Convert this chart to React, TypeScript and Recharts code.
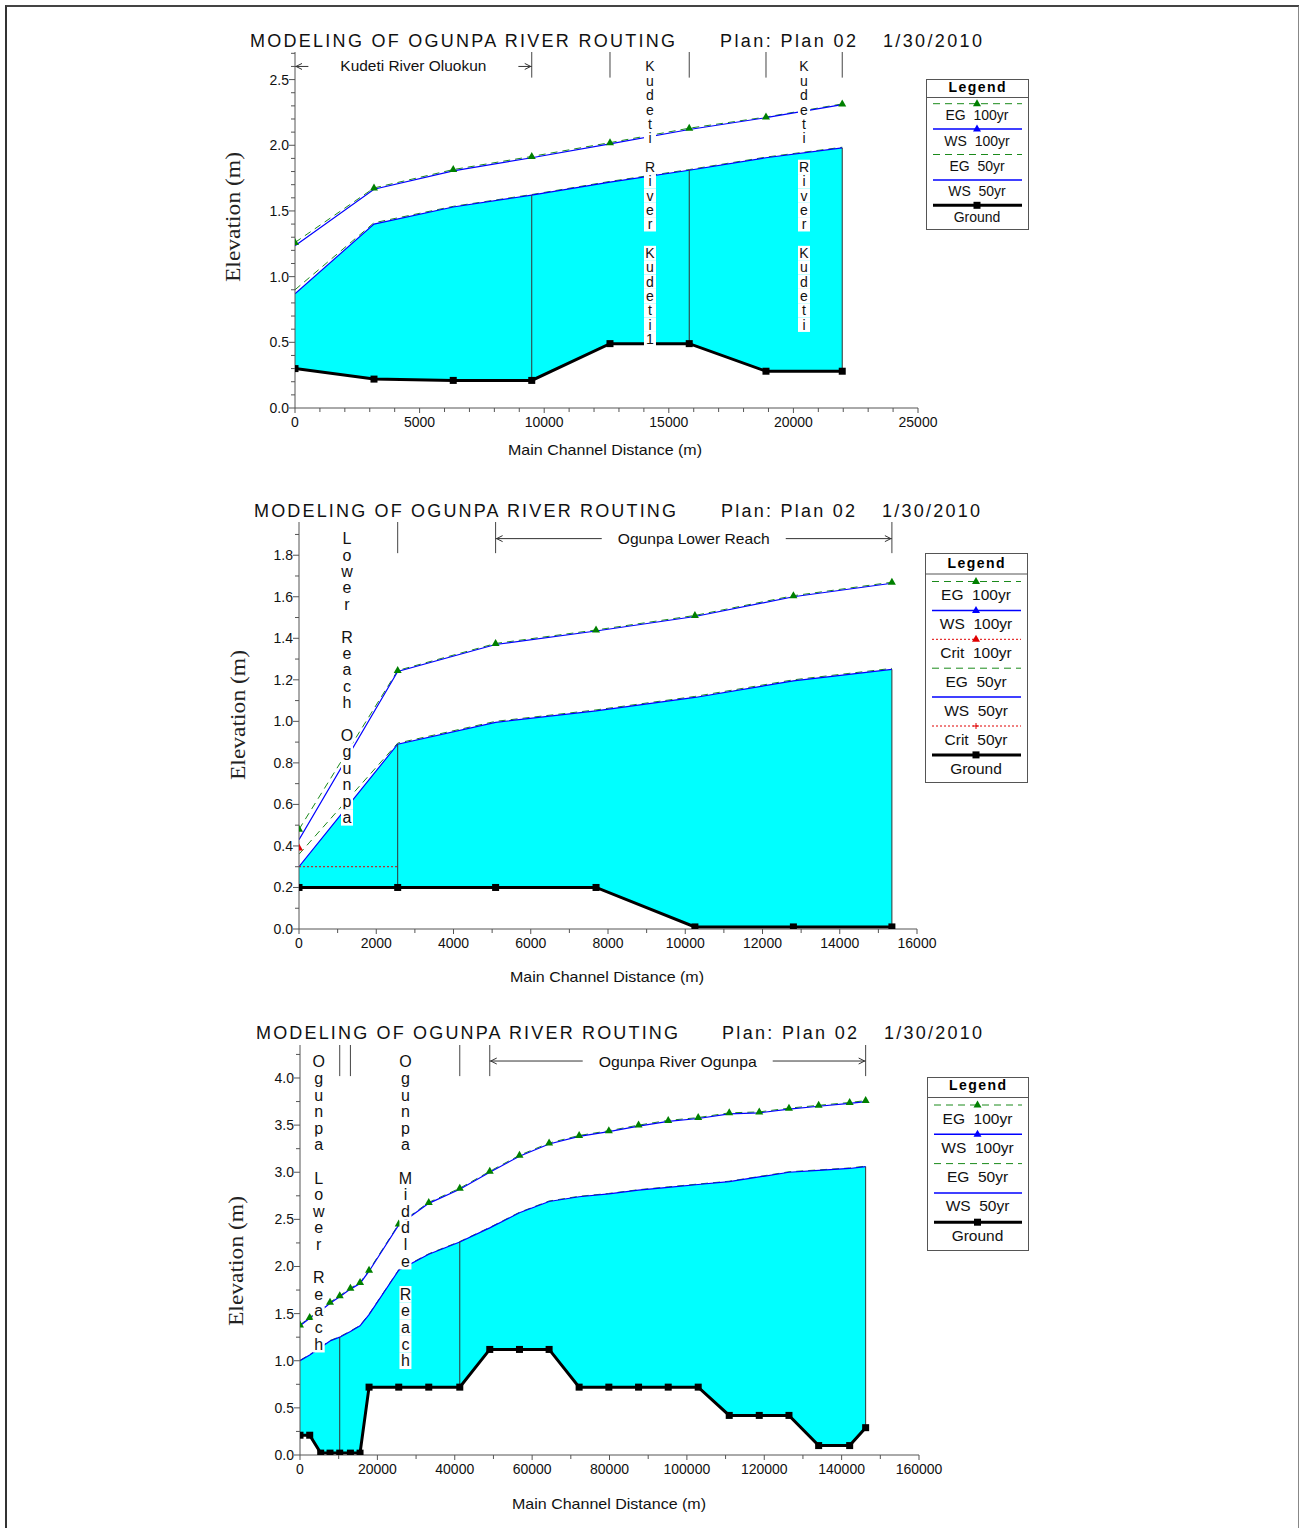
import React from "react";
import {
  Area,
  ComposedChart,
  Line,
  ReferenceDot,
  ReferenceLine,
  XAxis,
  YAxis,
} from "recharts";

// ---- Kudeti River (top profile) ----
const kudetiDist = [0, 3170, 6350, 9500, 12640, 15820, 18900, 21960];
const kudetiGround = [0.3, 0.22, 0.21, 0.21, 0.49, 0.49, 0.28, 0.28];
const kudetiWs50 = [0.87, 1.4, 1.53, 1.62, 1.72, 1.81, 1.905, 1.98];
const kudetiEg50 = [0.9, 1.41, 1.535, 1.625, 1.725, 1.815, 1.91, 1.985];
const kudetiWs100 = [1.235, 1.665, 1.805, 1.905, 2.01, 2.12, 2.21, 2.31];
const kudetiEg100 = [1.26, 1.675, 1.815, 1.915, 2.02, 2.13, 2.215, 2.315];
const kudetiJunctions = [9500, 15820, 21960];
const kudetiMarks = [9500, 12640, 15820, 18900, 21960];
const kudetiXTicks = [0, 5000, 10000, 15000, 20000, 25000];
const kudetiYTicks = [0, 0.5, 1.0, 1.5, 2.0, 2.5];

// ---- Ogunpa lower reach (middle profile) ----
const lowerDist = [0, 2555, 5090, 7690, 10250, 12800, 15350];
const lowerGround = [0.2, 0.2, 0.2, 0.2, 0.01, 0.01, 0.01];
const lowerWs50 = [0.3, 0.89, 0.995, 1.05, 1.115, 1.195, 1.25];
const lowerEg50 = [0.36, 0.895, 1.0, 1.055, 1.12, 1.2, 1.255];
const lowerCrit50 = [0.3, 0.3, null, null, null, null, null];
const lowerWs100 = [0.43, 1.24, 1.37, 1.435, 1.505, 1.6, 1.665];
const lowerEg100 = [0.48, 1.245, 1.375, 1.44, 1.51, 1.605, 1.67];
const lowerCrit100 = [0.39, null, null, null, null, null, null];
const lowerJunctions = [2555, 15350];
const lowerMarks = [2555, 5090, 15350];
const lowerXTicks = [0, 2000, 4000, 6000, 8000, 10000, 12000, 14000, 16000];
const lowerYTicks = [0, 0.2, 0.4, 0.6, 0.8, 1.0, 1.2, 1.4, 1.6, 1.8];

// ---- Ogunpa River (bottom profile) ----
const ogunpaDist = [
  0, 2510, 5350, 7760, 10270, 13030, 15520, 17850, 25520, 33280, 41300, 49050,
  56730, 64390, 72150, 79830, 87510, 95180, 102930, 110950, 118710, 126390,
  134060, 142080, 146210,
];
const ogunpaGround = [
  0.21, 0.21, 0.02, 0.02, 0.02, 0.02, 0.02, 0.72, 0.72, 0.72, 0.72, 1.12, 1.12,
  1.12, 0.72, 0.72, 0.72, 0.72, 0.72, 0.42, 0.42, 0.42, 0.1, 0.1, 0.29,
];
const ogunpaWs50 = [
  1.0, 1.06, 1.14, 1.21, 1.25, 1.31, 1.37, 1.49, 1.96, 2.13, 2.26, 2.41, 2.57,
  2.69, 2.74, 2.77, 2.81, 2.84, 2.87, 2.9, 2.95, 3.0, 3.02, 3.04, 3.06,
];
const ogunpaEg50 = [
  1.005, 1.065, 1.145, 1.215, 1.255, 1.315, 1.375, 1.495, 1.965, 2.135, 2.265,
  2.415, 2.575, 2.695, 2.745, 2.775, 2.815, 2.845, 2.875, 2.905, 2.955, 3.005,
  3.025, 3.045, 3.065,
];
const ogunpaWs100 = [
  1.37, 1.45, 1.53, 1.61, 1.68, 1.76, 1.82, 1.95, 2.44, 2.67, 2.82, 3.0, 3.17,
  3.3, 3.38, 3.43, 3.49, 3.54, 3.57, 3.62, 3.63, 3.67, 3.7, 3.73, 3.75,
];
const ogunpaEg100 = [
  1.38, 1.46, 1.54, 1.62, 1.69, 1.77, 1.83, 1.96, 2.45, 2.68, 2.83, 3.01, 3.18,
  3.31, 3.39, 3.44, 3.5, 3.55, 3.58, 3.63, 3.64, 3.68, 3.71, 3.74, 3.76,
];
const ogunpaJunctions = [10270, 41300, 146210];
const ogunpaMarks = [10270, 13030, 41300, 49050, 146210];
const ogunpaXTicks = [0, 20000, 40000, 60000, 80000, 100000, 120000, 140000, 160000];
const ogunpaYTicks = [0, 0.5, 1.0, 1.5, 2.0, 2.5, 3.0, 3.5, 4.0];

const titleParts = ["MODELING OF OGUNPA RIVER ROUTING", "Plan: Plan 02", "1/30/2010"];
const legendFull = ["EG  100yr", "WS  100yr", "Crit  100yr", "EG  50yr", "WS  50yr", "Crit  50yr", "Ground"];
const legendShort = ["EG  100yr", "WS  100yr", "EG  50yr", "WS  50yr", "Ground"];

const SANS = "'Liberation Sans', Arial, sans-serif";
const SERIF = "'Liberation Serif', 'Times New Roman', serif";
const AXIS = "#555";
const GREEN = "#1b8a1b";
const BLUE = "#0000ff";

type Row = {
  dist: number;
  ground: number;
  ws50: number;
  eg50: number;
  ws100: number;
  eg100: number;
  crit50: number | null;
  crit100: number | null;
};

function buildRows(
  dist: number[],
  ground: number[],
  ws50: number[],
  eg50: number[],
  ws100: number[],
  eg100: number[],
  crit50?: (number | null)[],
  crit100?: (number | null)[]
): Row[] {
  return dist.map((d, i) => ({
    dist: d,
    ground: ground[i],
    ws50: ws50[i],
    eg50: eg50[i],
    ws100: ws100[i],
    eg100: eg100[i],
    crit50: crit50 ? crit50[i] : null,
    crit100: crit100 ? crit100[i] : null,
  }));
}

// unlabeled minor tick positions
const steps = (max: number, step: number) => {
  const out: number[] = [];
  for (let k = 0; k * step <= max + 1e-9; k++) out.push(+(k * step).toFixed(4));
  return out;
};

const isMajor = (majors: number[], v: number) => majors.some((m) => Math.abs(m - v) < 1e-6);

const triangle = (color: string) => (p: any) => {
  if (p.cx == null || p.cy == null || p.value == null) return <g key={p.index} />;
  const { cx, cy } = p;
  return (
    <path
      key={p.index}
      d={`M${cx},${cy - 4.5} L${cx + 4},${cy + 2.5} L${cx - 4},${cy + 2.5} Z`}
      fill={color}
    />
  );
};

const square = (p: any) => {
  if (p.cx == null || p.cy == null) return <g key={p.index} />;
  return <rect key={p.index} x={p.cx - 3.5} y={p.cy - 3.5} width={7} height={7} fill="#000" />;
};

function VText({ cx, cy, text, step, size }: any) {
  return (
    <g>
      {text.split("").map((c: string, i: number) =>
        c === " " ? null : (
          <g key={i}>
            <rect x={cx - 6} y={cy + i * step - step / 2} width={12} height={step} fill="#fff" />
            <text
              x={cx}
              y={cy + i * step}
              textAnchor="middle"
              dominantBaseline="central"
              fontSize={size}
              fontFamily={SANS}
              fill="#111"
            >
              {c}
            </text>
          </g>
        )
      )}
    </g>
  );
}

function ArrowShape({ x1, y1, x2, text, gap, textWidth, size }: any) {
  const mid = (x1 + x2) / 2;
  return (
    <g>
      <line x1={x1} y1={y1} x2={x2} y2={y1} stroke="#333" strokeWidth={1} />
      <polyline points={`${x1 + 7},${y1 - 3} ${x1 + 1},${y1} ${x1 + 7},${y1 + 3}`} fill="none" stroke="#333" />
      <polyline points={`${x2 - 7},${y1 - 3} ${x2 - 1},${y1} ${x2 - 7},${y1 + 3}`} fill="none" stroke="#333" />
      <rect x={mid - gap} y={y1 - 9} width={gap * 2} height={18} fill="#fff" />
      <text
        x={mid}
        y={y1}
        textAnchor="middle"
        dominantBaseline="central"
        fontSize={size}
        fontFamily={SANS}
        textLength={textWidth}
        lengthAdjust="spacingAndGlyphs"
        fill="#111"
      >
        {text}
      </text>
    </g>
  );
}

type ChartSpec = {
  rows: Row[];
  plot: { left: number; right: number; top: number; bottom: number };
  xMax: number;
  xMinor: number;
  xTicks: number[];
  yMax: number;
  yMinor: number;
  yTicks: number[];
  junctions: number[];
  marks: number[];
  markBottom: number;
  arrow: { from: number; to: number; y: number; text: string; gap: number; width: number; size: number };
  vtexts: { x: number; y: number; text: string }[];
  vStep: number;
  vSize: number;
  withCrit: boolean;
};

function RiverChart({ spec }: { spec: ChartSpec }) {
  const { rows, plot } = spec;
  const svgLeft = plot.left - 100;
  const svgTop = plot.top - 10;
  const width = plot.right - svgLeft + 40;
  const height = plot.bottom - svgTop + 40;

  const xTickList = Array.from(new Set([...steps(spec.xMax, spec.xMinor), ...spec.xTicks])).sort((a, b) => a - b);
  const yTickList = Array.from(new Set([...steps(spec.yMax, spec.yMinor), ...spec.yTicks])).sort((a, b) => a - b);

  const xTick = (p: any) => {
    const v = p.payload.value;
    const major = isMajor(spec.xTicks, v);
    return (
      <g key={`x${v}`}>
        <line x1={p.x} y1={p.y} x2={p.x} y2={p.y + (major ? 5 : 4)} stroke={AXIS} />
        {major && (
          <text x={p.x} y={p.y + 14} textAnchor="middle" dominantBaseline="central" fontSize={14} fontFamily={SANS} fill="#111">
            {v}
          </text>
        )}
      </g>
    );
  };

  const yTick = (p: any) => {
    const v = p.payload.value;
    const major = isMajor(spec.yTicks, v);
    return (
      <g key={`y${v}`}>
        <line x1={p.x - (major ? 6 : 4)} y1={p.y} x2={p.x} y2={p.y} stroke={AXIS} />
        {major && (
          <text x={p.x - 6} y={p.y} textAnchor="end" dominantBaseline="central" fontSize={14} fontFamily={SANS} fill="#111">
            {v.toFixed(1)}
          </text>
        )}
      </g>
    );
  };

  const rowAt = (d: number) => rows.find((r) => r.dist === d)!;

  return (
    <div style={{ position: "absolute", left: svgLeft, top: svgTop }}>
      <ComposedChart width={width} height={height} data={rows} margin={{ top: 10, right: 40, bottom: 0, left: 0 }}>
        <XAxis
          type="number"
          dataKey="dist"
          domain={[0, spec.xMax]}
          ticks={xTickList}
          interval={0}
          allowDataOverflow
          height={40}
          tickSize={0}
          tickMargin={0}
          tickLine={false}
          tick={xTick}
          axisLine={{ stroke: AXIS }}
        />
        <YAxis
          type="number"
          domain={[0, spec.yMax]}
          ticks={yTickList}
          interval={0}
          allowDataOverflow
          width={100}
          tickSize={0}
          tickMargin={0}
          tickLine={false}
          tick={yTick}
          axisLine={{ stroke: AXIS }}
        />
        <Area
          type="linear"
          dataKey={(r: Row) => [r.ground, r.ws50]}
          fill="#00ffff"
          fillOpacity={1}
          stroke="none"
          isAnimationActive={false}
        />
        <Line type="linear" dataKey="eg50" stroke={GREEN} strokeDasharray="7 5" strokeWidth={1} dot={false} isAnimationActive={false} />
        <Line type="linear" dataKey="ws50" stroke={BLUE} strokeWidth={1.2} dot={false} isAnimationActive={false} />
        {spec.withCrit && (
          <Line type="linear" dataKey="crit50" stroke="#e00000" strokeDasharray="2 2" strokeWidth={1} dot={false} isAnimationActive={false} />
        )}
        <Line type="linear" dataKey="eg100" stroke={GREEN} strokeDasharray="7 5" strokeWidth={1} dot={false} isAnimationActive={false} />
        <Line type="linear" dataKey="ws100" stroke={BLUE} strokeWidth={1.2} dot={false} isAnimationActive={false} />
        {spec.withCrit && (
          <Line type="linear" dataKey="crit100" stroke="#e00000" strokeDasharray="2 2" dot={triangle("#e00000")} isAnimationActive={false} />
        )}
        <Line type="linear" dataKey="eg100" stroke="none" dot={triangle("#008000")} isAnimationActive={false} legendType="none" />
        <Line type="linear" dataKey="ground" stroke="#000" strokeWidth={3} dot={square} isAnimationActive={false} />

        {spec.junctions.map((d) => (
          <ReferenceLine
            key={`j${d}`}
            segment={[
              { x: d, y: rowAt(d).ground },
              { x: d, y: rowAt(d).ws50 },
            ]}
            stroke="#333"
            strokeWidth={1}
          />
        ))}
        {spec.marks.map((d) => (
          <ReferenceLine
            key={`m${d}`}
            segment={[
              { x: d, y: spec.yMax },
              { x: d, y: spec.markBottom },
            ]}
            stroke="#444"
            strokeWidth={1}
          />
        ))}
        <ReferenceLine
          segment={[
            { x: spec.arrow.from, y: spec.arrow.y },
            { x: spec.arrow.to, y: spec.arrow.y },
          ]}
          shape={(p: any) => (
            <ArrowShape {...p} text={spec.arrow.text} gap={spec.arrow.gap} textWidth={spec.arrow.width} size={spec.arrow.size} />
          )}
        />
        {spec.vtexts.map((t) => (
          <ReferenceDot
            key={t.text + t.x}
            x={t.x}
            y={t.y}
            r={0}
            shape={(p: any) => <VText cx={p.cx} cy={p.cy} text={t.text} step={spec.vStep} size={spec.vSize} />}
          />
        ))}
      </ComposedChart>
    </div>
  );
}

type LegendSpec = {
  left: number;
  top: number;
  width: number;
  height: number;
  headY: number;
  sepY: number;
  lineY: number;
  step: number;
  textGap: number;
  font: number;
  labels: string[];
};

function legendStyle(label: string) {
  if (label.startsWith("EG")) return { color: GREEN, dash: "7 5", width: 1, marker: label.includes("100") ? "tri" : "" };
  if (label.startsWith("WS")) return { color: BLUE, dash: undefined, width: 1.5, marker: label.includes("100") ? "tri" : "" };
  if (label.startsWith("Crit")) return { color: "#e00000", dash: "2 2", width: 1, marker: label.includes("100") ? "tri" : "plus" };
  return { color: "#000", dash: undefined, width: 3, marker: "square" };
}

function LegendBox({ spec }: { spec: LegendSpec }) {
  const { left, top, width, height } = spec;
  const cx = left + width / 2;
  return (
    <g>
      <rect x={left + 0.5} y={top + 0.5} width={width} height={height} fill="#fff" stroke="#555" />
      <text
        x={cx}
        y={top + spec.headY}
        textAnchor="middle"
        dominantBaseline="central"
        fontSize={14}
        fontWeight="bold"
        fontFamily={SANS}
        textLength={57}
        lengthAdjust="spacing"
      >
        Legend
      </text>
      <line x1={left} x2={left + width} y1={top + spec.sepY} y2={top + spec.sepY} stroke="#555" />
      {spec.labels.map((label, i) => {
        const ly = top + spec.lineY + i * spec.step;
        const s = legendStyle(label);
        return (
          <g key={label}>
            <line x1={left + 7} x2={left + width - 6} y1={ly} y2={ly} stroke={s.color} strokeWidth={s.width} strokeDasharray={s.dash} />
            {s.marker === "tri" && (
              <path d={`M${cx},${ly - 4.5} L${cx + 4},${ly + 2.5} L${cx - 4},${ly + 2.5} Z`} fill={label.startsWith("EG") ? "#008000" : s.color} />
            )}
            {s.marker === "plus" && (
              <path d={`M${cx - 3},${ly} H${cx + 3} M${cx},${ly - 3} V${ly + 3}`} stroke={s.color} strokeWidth={1} />
            )}
            {s.marker === "square" && <rect x={cx - 3.5} y={ly - 3.5} width={7} height={7} fill="#000" />}
            <text
              x={cx}
              y={ly + spec.textGap}
              textAnchor="middle"
              dominantBaseline="central"
              fontSize={spec.font}
              fontFamily={SANS}
              style={{ whiteSpace: "pre" }}
              fill="#111"
            >
              {label}
            </text>
          </g>
        );
      })}
    </g>
  );
}

function Title({ y, xs }: { y: number; xs: [number, number][] }) {
  return (
    <g>
      {titleParts.map((t, i) => (
        <text
          key={t}
          x={xs[i][0]}
          y={y}
          fontSize={18}
          fontFamily={SANS}
          textLength={xs[i][1] - xs[i][0]}
          lengthAdjust="spacing"
          fill="#111"
        >
          {t}
        </text>
      ))}
    </g>
  );
}

function AxisTitles({ yx, yy, xx, xy }: { yx: number; yy: number; xx: number; xy: number }) {
  return (
    <g>
      <text
        x={yx}
        y={yy}
        transform={`rotate(-90 ${yx} ${yy})`}
        textAnchor="middle"
        dominantBaseline="central"
        fontSize={22}
        fontFamily={SERIF}
        textLength={130}
        lengthAdjust="spacingAndGlyphs"
        fill="#222"
      >
        Elevation (m)
      </text>
      <text
        x={xx}
        y={xy}
        textAnchor="middle"
        dominantBaseline="central"
        fontSize={15}
        fontFamily={SANS}
        textLength={194}
        lengthAdjust="spacingAndGlyphs"
        fill="#111"
      >
        Main Channel Distance (m)
      </text>
    </g>
  );
}

const kudetiSpec: ChartSpec = {
  rows: buildRows(kudetiDist, kudetiGround, kudetiWs50, kudetiEg50, kudetiWs100, kudetiEg100),
  plot: { left: 295, right: 918, top: 52, bottom: 408 },
  xMax: 25000,
  xMinor: 1000,
  xTicks: kudetiXTicks,
  yMax: 2.71,
  yMinor: 0.1,
  yTicks: kudetiYTicks,
  junctions: kudetiJunctions,
  marks: kudetiMarks,
  markBottom: 2.515,
  arrow: { from: 0, to: 9500, y: 2.6, text: "Kudeti River Oluokun", gap: 105, width: 146, size: 14 },
  vtexts: [
    { x: 14245, y: 2.6, text: "Kudeti River Kudeti1" },
    { x: 20425, y: 2.6, text: "Kudeti River Kudeti" },
  ],
  vStep: 14.35,
  vSize: 14,
  withCrit: false,
};

const lowerSpec: ChartSpec = {
  rows: buildRows(lowerDist, lowerGround, lowerWs50, lowerEg50, lowerWs100, lowerEg100, lowerCrit50, lowerCrit100),
  plot: { left: 299, right: 917, top: 522, bottom: 929 },
  xMax: 16000,
  xMinor: 1000,
  xTicks: lowerXTicks,
  yMax: 1.96,
  yMinor: 0.1,
  yTicks: lowerYTicks,
  junctions: lowerJunctions,
  marks: lowerMarks,
  markBottom: 1.81,
  arrow: { from: 5090, to: 15350, y: 1.88, text: "Ogunpa Lower Reach", gap: 92, width: 152, size: 15 },
  vtexts: [{ x: 1243, y: 1.88, text: "Lower Reach Ogunpa" }],
  vStep: 16.4,
  vSize: 16,
  withCrit: true,
};

const ogunpaSpec: ChartSpec = {
  rows: buildRows(ogunpaDist, ogunpaGround, ogunpaWs50, ogunpaEg50, ogunpaWs100, ogunpaEg100),
  plot: { left: 300, right: 919, top: 1045, bottom: 1455 },
  xMax: 160000,
  xMinor: 10000,
  xTicks: ogunpaXTicks,
  yMax: 4.35,
  yMinor: 0.25,
  yTicks: ogunpaYTicks,
  junctions: ogunpaJunctions,
  marks: ogunpaMarks,
  markBottom: 4.02,
  arrow: { from: 49050, to: 146210, y: 4.18, text: "Ogunpa River Ogunpa", gap: 95, width: 158, size: 15 },
  vtexts: [
    { x: 4836, y: 4.17, text: "Ogunpa Lower Reach" },
    { x: 27256, y: 4.17, text: "Ogunpa Middle Reach" },
  ],
  vStep: 16.6,
  vSize: 16,
  withCrit: false,
};

export default function App() {
  return (
    <div style={{ position: "absolute", left: 0, top: 0, width: 1299, height: 1528, overflow: "hidden", background: "#fff" }}>
      <div
        style={{
          position: "absolute",
          left: 5,
          top: 5,
          width: 1291,
          height: 1540,
          borderLeft: "2px solid #333",
          borderTop: "2px solid #444",
          borderRight: "2px solid #888",
        }}
      />
      <RiverChart spec={kudetiSpec} />
      <RiverChart spec={lowerSpec} />
      <RiverChart spec={ogunpaSpec} />
      <svg width={1299} height={1528} style={{ position: "absolute", left: 0, top: 0, pointerEvents: "none" }}>
        <Title y={46.5} xs={[[250, 675], [720, 856], [883, 982]]} />
        <Title y={516.5} xs={[[254, 676], [721, 855], [882, 980]]} />
        <Title y={1039} xs={[[256, 678], [722, 857], [884, 982]]} />
        <AxisTitles yx={232} yy={217} xx={605} xy={449} />
        <AxisTitles yx={237} yy={715} xx={607} xy={976} />
        <AxisTitles yx={235} yy={1261} xx={609} xy={1503} />
        <LegendBox
          spec={{ left: 926, top: 79, width: 102, height: 150, headY: 7.5, sepY: 18.5, lineY: 24.7, step: 25.4, textGap: 11.5, font: 14, labels: legendShort }}
        />
        <LegendBox
          spec={{ left: 925, top: 553, width: 102, height: 229, headY: 9.5, sepY: 21, lineY: 28.5, step: 28.9, textGap: 13.3, font: 15.5, labels: legendFull }}
        />
        <LegendBox
          spec={{ left: 927, top: 1077, width: 101, height: 173, headY: 8, sepY: 20.5, lineY: 28, step: 29.3, textGap: 13, font: 15.5, labels: legendShort }}
        />
      </svg>
    </div>
  );
}
